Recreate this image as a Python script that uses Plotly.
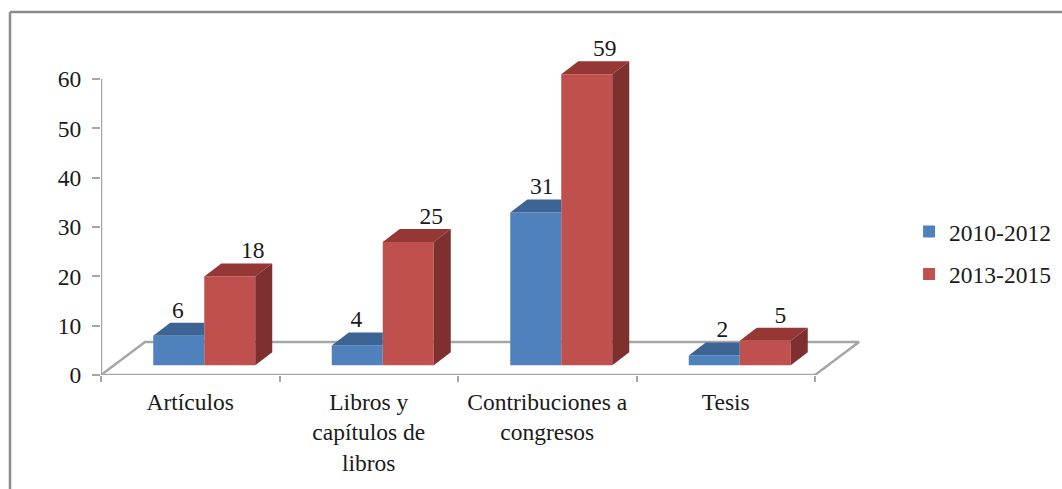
import plotly.graph_objects as go

categorias = ['Artículos', 'Libros y<br>capítulos de<br>libros', 'Contribuciones a<br>congresos', 'Tesis']
serie_2010 = [6, 4, 31, 2]
serie_2013 = [18, 25, 59, 5]
eje_y_ticks = [0, 10, 20, 30, 40, 50, 60]

# desvio de las etiquetas respecto al centro de la barra (px), como en el original
desvio_2010 = [-1, -1, 6, 8]
desvio_2013 = [23, 23, 18, 15]

AZUL, AZUL_TOP = '#4f81bd', '#3c6494'
ROJO, ROJO_TOP, ROJO_LADO = '#c0504d', '#953735', '#7d302e'
GRIS = '#a6a6a6'
TEXTO = '#1a1a1a'
FUENTE = 'Liberation Serif'
TAM = 23.5

# escala de pixeles a unidades de datos
PX_X = 178.5
PX_Y = 4.933
ANCHO = 780
ALTO = 360
ANCHO_BARRA = 51 / PX_X
BASE_X = 14 / PX_X
BASE_Y = 9.7 / PX_Y
PROF_X = 17 / PX_X
PROF_Y = 13 / PX_Y
PISO_X = 44 / PX_X
PISO_Y = 33 / PX_Y


def cara(fig, xs, ys, color):
    fig.add_trace(go.Scatter(x=xs, y=ys, mode='lines', fill='toself', fillcolor=color, xaxis='x2', yaxis='y2',
                             line=dict(width=0, color=color), showlegend=False, hoverinfo='skip'))


def serie(fig, nombre, valores, pos, color, color_top, desvio, con_lado):
    centros = [i + pos for i in range(len(valores))]
    fig.add_trace(go.Bar(x=centros, y=valores, base=BASE_Y, width=ANCHO_BARRA, name=nombre, xaxis='x2', yaxis='y2',
                         marker=dict(color=color, line=dict(width=0)), legendgroup=nombre))
    for c, v in zip(centros, valores):
        iz, de = c - ANCHO_BARRA / 2, c + ANCHO_BARRA / 2
        tope = v + BASE_Y
        if con_lado:
            cara(fig, [iz, iz + PROF_X, de + PROF_X, de, iz], [tope, tope + PROF_Y, tope + PROF_Y, tope, tope], color_top)
            cara(fig, [de, de + PROF_X, de + PROF_X, de, de],
                 [BASE_Y, BASE_Y + PROF_Y, tope + PROF_Y, tope, BASE_Y], ROJO_LADO)
        else:
            # la serie azul queda tapada por la roja a su derecha
            cara(fig, [iz, iz + PROF_X, de, de, iz], [tope, tope + PROF_Y, tope + PROF_Y, tope, tope], color_top)
    fig.add_trace(go.Scatter(x=[c + d / PX_X for c, d in zip(centros, desvio)],
                             y=[v + BASE_Y + PROF_Y + 11 / PX_Y for v in valores],
                             mode='text', text=[str(v) for v in valores], textposition='middle center',
                             textfont=dict(size=TAM, color=TEXTO, family=FUENTE), xaxis='x2', yaxis='y2',
                             showlegend=False, hoverinfo='skip', cliponaxis=False))


fig = go.Figure()

# piso y eje vertical
fig.add_trace(go.Scatter(x=[0, 4, 4 + PISO_X, PISO_X, 0], y=[0, 0, PISO_Y, PISO_Y, 0], mode='lines',
                         line=dict(color=GRIS, width=2.5), showlegend=False, hoverinfo='skip'))
fig.add_trace(go.Scatter(x=[0, 0], y=[0, 60], mode='lines',
                         line=dict(color=GRIS, width=2.5), showlegend=False, hoverinfo='skip'))

medio = ANCHO_BARRA / 2
serie(fig, '2010-2012', serie_2010, 0.5 + BASE_X - medio, AZUL, AZUL_TOP, desvio_2010, False)
serie(fig, '2013-2015', serie_2013, 0.5 + BASE_X + medio, ROJO, ROJO_TOP, desvio_2013, True)

rango_x = [0, ANCHO / PX_X]
rango_y = [0, ALTO / PX_Y]

fig.update_layout(
    width=1062, height=489,
    margin=dict(l=101, r=1062 - 101 - ANCHO, t=489 - 114 - ALTO, b=114, pad=0),
    plot_bgcolor='white', paper_bgcolor='white',
    font=dict(family=FUENTE, size=TAM, color=TEXTO),
    barmode='overlay',
    legend=dict(xref='container', yref='container', x=0.856, y=0.571, xanchor='left', yanchor='top',
                tracegroupgap=9, bgcolor='rgba(0,0,0,0)', font=dict(size=TAM)),
    xaxis=dict(range=rango_x, showgrid=False, zeroline=False, showline=False,
               tickmode='array', tickvals=[0.5, 1.5, 2.5, 3.5], ticktext=categorias, ticks='',
               ticklabelstandoff=10,
               minor=dict(tickmode='array', tickvals=[0, 1, 2, 3, 4], ticks='outside', ticklen=6,
                          tickwidth=2, tickcolor=GRIS, showgrid=False)),
    yaxis=dict(range=rango_y, showgrid=False, zeroline=False, showline=False,
               tickmode='array', tickvals=eje_y_ticks, ticks='outside', ticklen=8, tickwidth=2,
               tickcolor=GRIS, ticklabelstandoff=6),
    # las barras van en ejes superpuestos para quedar encima del piso
    xaxis2=dict(range=rango_x, overlaying='x', visible=False),
    yaxis2=dict(range=rango_y, overlaying='y', visible=False),
    shapes=[
        dict(type='line', xref='paper', yref='paper', x0=-91 / ANCHO, x1=961 / ANCHO,
             y0=(375 - 12) / ALTO, y1=(375 - 12) / ALTO, line=dict(color='#8c8c8c', width=2.5)),
        dict(type='line', xref='paper', yref='paper', x0=-91 / ANCHO, x1=-91 / ANCHO,
             y0=-114 / ALTO, y1=(375 - 12) / ALTO, line=dict(color='#8c8c8c', width=2.5)),
    ],
)

fig.write_html("out.html", config=dict(displayModeBar=False),
               post_script="document.body.style.margin='0';document.body.style.overflow='hidden';")
